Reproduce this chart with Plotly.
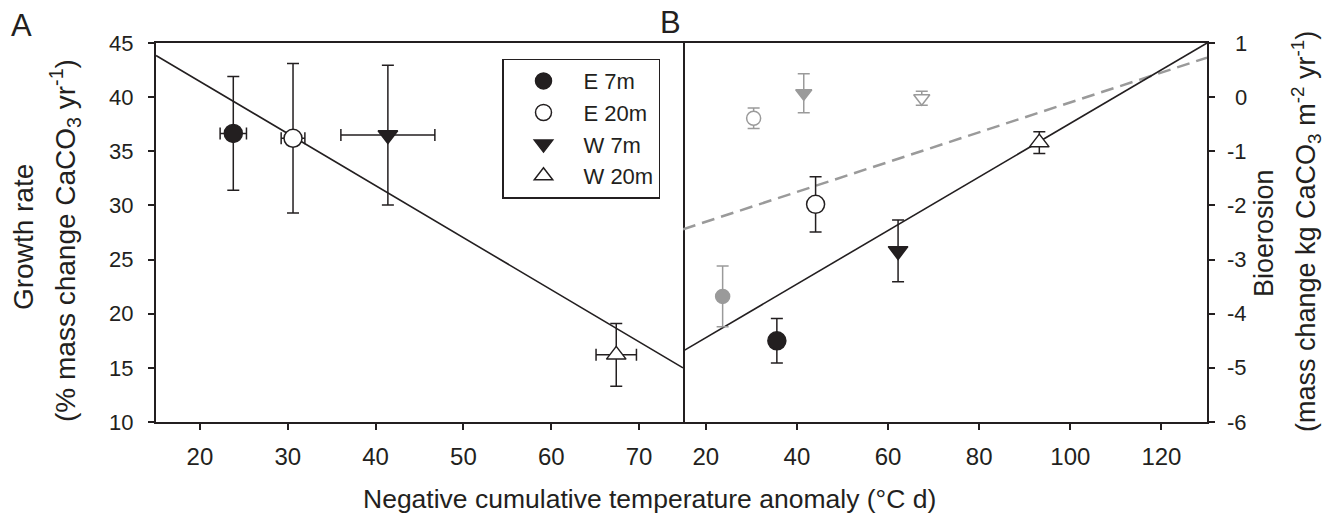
import plotly.graph_objects as go

# ---------------- data ----------------
sites = ["E 7m", "E 20m", "W 7m", "W 20m"]

# Panel A: growth rate (% mass change CaCO3 / yr)
a_x = [23.8, 30.6, 41.4, 67.4]
a_x_err = [1.5, 1.35, 5.35, 2.3]
a_y = [36.65, 36.2, 36.5, 16.2]
a_y_err = [5.25, 6.9, 6.45, 2.9]

# Panel B: bioerosion (kg CaCO3 / m2 / yr), black series
b_x = [35.6, 44.1, 62.2, 93.2]
b_y = [-4.5, -1.98, -2.84, -0.84]
b_y_err = [0.41, 0.51, 0.57, 0.2]

# Panel B: grey series
g_x = [23.7, 30.5, 41.5, 67.4]
g_y = [-3.68, -0.39, 0.07, -0.02]
g_y_err = [0.56, 0.19, 0.36, 0.13]

# Regression lines (end points)
fitA_x = [15, 75]
fitA_y = [43.85, 15.0]
fitB_x = [15, 130]
fitB_y = [-4.69, 1.0]
fitG_x = [15, 130]
fitG_y = [-2.44, 0.73]

a_ticks = [20, 30, 40, 50, 60, 70]
a_yticks = [10, 15, 20, 25, 30, 35, 40, 45]
b_ticks = [20, 40, 60, 80, 100, 120]
b_yticks = [-6, -5, -4, -3, -2, -1, 0, 1]

# ---------------- styling ----------------
INK = "#231f20"
GREY = "#9a9a9a"
FONT = "Liberation Sans, Arial, sans-serif"

black_sym = ["circle", "circle", "triangle-down", "triangle-up"]
black_fill = [INK, "white", INK, "white"]
black_size = [18, 18, 17, 17]
grey_sym = ["circle", "circle", "triangle-down", "triangle-down"]
grey_fill = [GREY, "white", GREY, "white"]
grey_size = [14, 14, 14, 14]

W, H = 1332, 513
L, R, T, B = 156, 1207, 43, 422
split = 683


def px(xp):
    return (xp - L) / (R - L)


def py(yp):
    return (B - yp) / (B - T)


fig = go.Figure()

# regression lines
fig.add_trace(go.Scatter(x=fitA_x, y=fitA_y, mode="lines", line=dict(color=INK, width=1.6),
                         xaxis="x", yaxis="y", showlegend=False, hoverinfo="skip"))
fig.add_trace(go.Scatter(x=fitG_x, y=fitG_y, mode="lines", line=dict(color=GREY, width=2.5, dash="13px,7px"),
                         xaxis="x2", yaxis="y2", showlegend=False, hoverinfo="skip"))
fig.add_trace(go.Scatter(x=fitB_x, y=fitB_y, mode="lines", line=dict(color=INK, width=1.6),
                         xaxis="x2", yaxis="y2", showlegend=False, hoverinfo="skip"))

for i, s in enumerate(sites):
    # panel A
    fig.add_trace(go.Scatter(
        x=[a_x[i]], y=[a_y[i]], mode="markers", name=s,
        marker=dict(symbol=black_sym[i], size=black_size[i], color=black_fill[i],
                    line=dict(color=INK, width=1.5)),
        error_x=dict(type="data", array=[a_x_err[i]], color=INK, thickness=1.5, width=6),
        error_y=dict(type="data", array=[a_y_err[i]], color=INK, thickness=1.5, width=6),
        xaxis="x", yaxis="y", showlegend=True))
    # panel B grey
    fig.add_trace(go.Scatter(
        x=[g_x[i]], y=[g_y[i]], mode="markers", name=s + " (grey)",
        marker=dict(symbol=grey_sym[i], size=grey_size[i], color=grey_fill[i],
                    line=dict(color=GREY, width=1.5)),
        error_y=dict(type="data", array=[g_y_err[i]], color=GREY, thickness=1.5, width=6),
        xaxis="x2", yaxis="y2", showlegend=False))
    # panel B black
    fig.add_trace(go.Scatter(
        x=[b_x[i]], y=[b_y[i]], mode="markers", name=s + " (B)",
        marker=dict(symbol=black_sym[i], size=black_size[i], color=black_fill[i],
                    line=dict(color=INK, width=1.5)),
        error_y=dict(type="data", array=[b_y_err[i]], color=INK, thickness=1.5, width=6),
        xaxis="x2", yaxis="y2", showlegend=False))

dA = px(split)
axis_common = dict(showline=True, linecolor=INK, linewidth=2, ticks="outside", ticklen=6,
                   tickwidth=1.5, tickcolor=INK, showgrid=False, zeroline=False)
xfont = dict(family=FONT, size=24, color=INK)
yfont = dict(family=FONT, size=22, color=INK)

annotations = []
for v in b_yticks:
    annotations.append(dict(x=px(1249), y=v, xref="paper", yref="y2", text=str(v),
                            showarrow=False, xanchor="right", yanchor="middle", font=yfont))

annotations += [
    dict(x=px(361), y=py(499), xref="paper", yref="paper", showarrow=False,
         text="Negative cumulative temperature anomaly (°C d)", xanchor="left", yanchor="middle",
         font=dict(family=FONT, size=26.5, color=INK)),
    dict(x=px(23), y=py(237), xref="paper", yref="paper", showarrow=False, textangle=-90,
         text="Growth rate", xanchor="center", yanchor="middle",
         font=dict(family=FONT, size=28, color=INK)),
    dict(x=px(65), y=py(241), xref="paper", yref="paper", showarrow=False, textangle=-90,
         text="(% mass change CaCO<sub>3</sub> yr<sup>-1</sup>)", xanchor="center", yanchor="middle",
         font=dict(family=FONT, size=28, color=INK)),
    dict(x=px(1264), y=py(233), xref="paper", yref="paper", showarrow=False, textangle=-90,
         text="Bioerosion", xanchor="center", yanchor="middle",
         font=dict(family=FONT, size=27, color=INK)),
    dict(x=px(1306), y=py(232), xref="paper", yref="paper", showarrow=False, textangle=-90,
         text="(mass change kg CaCO<sub>3</sub> m<sup>-2</sup> yr<sup>-1</sup>)", xanchor="center",
         yanchor="middle", font=dict(family=FONT, size=27, color=INK)),
    dict(x=px(21.5), y=py(25), xref="paper", yref="paper", showarrow=False, text="A",
         xanchor="center", yanchor="middle", font=dict(family=FONT, size=31, color=INK)),
    dict(x=px(670), y=py(23), xref="paper", yref="paper", showarrow=False, text="B",
         xanchor="center", yanchor="middle", font=dict(family=FONT, size=31, color=INK)),
]

fig.update_layout(
    width=W, height=H,
    margin=dict(l=L, r=W - R, t=T, b=H - B, pad=0),
    paper_bgcolor="white", plot_bgcolor="white",
    font=dict(family=FONT, color=INK),
    xaxis=dict(domain=[0, dA], range=[15, 75], tickvals=a_ticks, mirror=True,
               ticklabelstandoff=6, tickfont=xfont, **axis_common),
    yaxis=dict(domain=[0, 1], range=[10, 45], tickvals=a_yticks, mirror=True,
               ticklabelstandoff=10, tickfont=yfont, **axis_common),
    xaxis2=dict(domain=[dA, 1], range=[15, 130], tickvals=b_ticks, anchor="y2", mirror=True,
                ticklabelstandoff=6, tickfont=xfont, **axis_common),
    yaxis2=dict(domain=[0, 1], range=[-6, 1], tickvals=b_yticks, anchor="x2", side="right",
                showticklabels=False, **axis_common),
    legend=dict(x=px(502), y=py(58.6), xanchor="left", yanchor="top", itemwidth=70,
                bgcolor="white", bordercolor=INK, borderwidth=1.5,
                font=dict(family=FONT, size=22, color=INK), tracegroupgap=0),
    annotations=annotations,
    showlegend=True,
)

fig.write_html("out.html", config={"displayModeBar": False},
               post_script="document.body.style.margin='0px';")
